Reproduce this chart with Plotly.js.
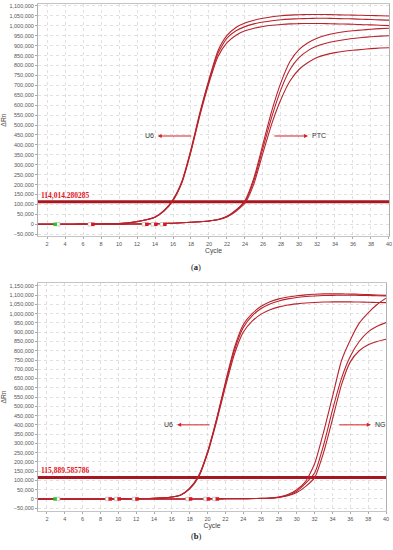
<!DOCTYPE html>
<html><head><meta charset="utf-8">
<script src="https://cdn.plot.ly/plotly-3.0.1.min.js"></script>
<style>html,body{margin:0;padding:0;background:#fff}#c{width:393px;height:550px}</style>
</head><body><div id="c"></div>
<script>
const cycles = [1,2,3,4,5,6,7,8,9,10,11,12,13,14,15,16,17,18,19,20,21,22,23,24,25,26,27,28,29,30,31,32,33,34,35,36,37,38,39,40];

// Panel (a): U6 and PTC amplification curves (ΔRn)
const u6a1 = [0,0,200,400,600,900,1300,1800,2600,3800,7000,14000,23000,37000,70000,125000,218000,378000,565000,730000,875000,952000,992000,1014000,1028000,1038000,1046000,1051000,1054000,1056000,1057000,1057000,1057000,1056000,1055000,1054000,1053000,1052000,1051000,1050000];
const u6a2 = [0,0,200,400,600,900,1300,1800,2600,3700,6800,13500,22500,36000,68000,122000,214000,372000,558000,722000,862000,938000,975000,996000,1010000,1019000,1026000,1031000,1034000,1036000,1037000,1038000,1038000,1037000,1036000,1035000,1033000,1032000,1030000,1029000];
const u6a3 = [0,0,200,400,600,900,1300,1800,2500,3600,6600,13000,22000,35000,66000,119000,210000,366000,550000,712000,845000,915000,953000,975000,988000,997000,1003000,1007000,1010000,1011000,1012000,1012000,1011000,1010000,1009000,1008000,1006000,1005000,1003000,1001000];
const ptca1 = [0,0,0,0,0,0,0,0,500,800,1200,1600,2200,3000,4000,5500,7500,10000,13000,17000,24000,40000,72000,120000,235000,405000,575000,715000,820000,880000,915000,938000,953000,963000,970000,975000,979000,983000,986000,988000];
const ptca2 = [0,0,0,0,0,0,0,0,500,800,1200,1600,2200,3000,4000,5500,7500,10000,13000,17000,24000,39000,70000,114000,222000,385000,545000,680000,780000,840000,875000,898000,912000,922000,930000,936000,941000,945000,948000,950000];
const ptca3 = [0,0,0,0,0,0,0,0,500,800,1200,1600,2200,3000,4000,5500,7500,10000,13000,17000,23000,37000,66000,106000,205000,360000,510000,630000,722000,780000,815000,840000,855000,865000,872000,877000,881000,885000,888000,890000];
const thresholdA = 114014.280285;
const thresholdALabel = "114,014.280285";
const greenA = [2.9];
const redA = [7.1, 13.1, 14.1, 15.1];

// Panel (b): U6 and NG amplification curves (ΔRn)
const u6b1 = [0,0,0,0,0,0,0,200,400,700,1000,1500,2200,3500,6000,11000,22000,58000,125000,255000,430000,630000,815000,940000,1000000,1040000,1065000,1080000,1090000,1097000,1102000,1105000,1107000,1107000,1107000,1106000,1105000,1103000,1101000,1099000];
const u6b2 = [0,0,0,0,0,0,0,200,400,700,1000,1500,2200,3500,6000,11000,22000,56000,122000,250000,425000,620000,800000,925000,988000,1028000,1053000,1069000,1080000,1088000,1093000,1096000,1098000,1099000,1100000,1100000,1099000,1098000,1097000,1096000];
const u6b3 = [0,0,0,0,0,0,0,200,400,700,1000,1500,2200,3400,5800,10500,21000,54000,118000,245000,415000,605000,780000,900000,960000,998000,1022000,1037000,1047000,1053000,1058000,1061000,1063000,1064000,1064000,1064000,1063000,1062000,1061000,1060000];
const nga1 = [0,0,0,0,0,0,0,0,0,0,0,0,0,0,0,0,0,0,0,0,500,800,1200,1700,2300,3200,5000,11000,24000,50000,95000,190000,360000,552000,745000,858000,949000,1005000,1050000,1084000];
const nga2 = [0,0,0,0,0,0,0,0,0,0,0,0,0,0,0,0,0,0,0,0,500,800,1200,1700,2300,3000,4500,9500,20000,42000,85000,140000,290000,480000,650000,770000,850000,902000,932000,952000];
const nga3 = [0,0,0,0,0,0,0,0,0,0,0,0,0,0,0,0,0,0,0,0,500,800,1100,1500,2000,2700,4000,8500,17000,35000,68000,115000,250000,430000,615000,740000,800000,832000,850000,862000];
const thresholdB = 115889.585786;
const thresholdBLabel = "115,889.585786";
const greenB = [2.9];
const redB = [9.1, 10.1, 12.1, 18.1, 20.1, 21.1];

const curveColor = '#b8232c';
const thrColor = '#a8171f';

function curve(y, xa, ya) {
  return {x: cycles, y: y, xaxis: xa, yaxis: ya, mode: 'lines', type: 'scatter',
    line: {color: curveColor, width: 1.1, shape: 'spline', smoothing: 0.6}, hoverinfo: 'skip', showlegend: false};
}
function thr(v, xa, ya) {
  return {x: [cycles[0], cycles[cycles.length-1]], y: [v, v], xaxis: xa, yaxis: ya, mode: 'lines',
    line: {color: thrColor, width: 3}, hoverinfo: 'skip', showlegend: false};
}
function marks(xs, color, xa, ya, dx) {
  return {x: xs.map(v => v + dx), y: xs.map(() => 0), xaxis: xa, yaxis: ya, mode: 'markers',
    marker: {symbol: 'square', size: 3.5, color: color, line: {width: color === '#ffffff' ? 0.6 : 0, color: '#aaa'}},
    hoverinfo: 'skip', showlegend: false};
}

const traces = [
  thr(thresholdA, 'x', 'y'),
  curve(u6a1, 'x', 'y'), curve(u6a2, 'x', 'y'), curve(u6a3, 'x', 'y'),
  curve(ptca1, 'x', 'y'), curve(ptca2, 'x', 'y'), curve(ptca3, 'x', 'y'),
  marks(redA, '#ffffff', 'x', 'y', -0.35), marks(redA, '#e0141c', 'x', 'y', 0),
  marks(greenA, '#ffffff', 'x', 'y', 0.35), marks(greenA, '#22cc22', 'x', 'y', 0),
  thr(thresholdB, 'x2', 'y2'),
  curve(u6b1, 'x2', 'y2'), curve(u6b2, 'x2', 'y2'), curve(u6b3, 'x2', 'y2'),
  curve(nga1, 'x2', 'y2'), curve(nga2, 'x2', 'y2'), curve(nga3, 'x2', 'y2'),
  marks(redB, '#ffffff', 'x2', 'y2', -0.35), marks(redB, '#e0141c', 'x2', 'y2', 0),
  marks(greenB, '#ffffff', 'x2', 'y2', 0.35), marks(greenB, '#22cc22', 'x2', 'y2', 0)
];

const tickFont = {family: 'Liberation Sans, Arial, sans-serif', size: 5.5, color: '#555'};
const titleFont = {family: 'Liberation Sans, Arial, sans-serif', size: 6.8, color: '#444'};
function xax(domain, anchor) {
  return {domain: domain, anchor: anchor, range: [1, 40], tickmode: 'linear', tick0: 2, dtick: 2,
    showgrid: true, gridcolor: '#d8d8d8', griddash: 'dot', gridwidth: 0.8, zeroline: false,
    showline: true, linecolor: '#c4c4c4', linewidth: 1, mirror: true,
    ticks: 'outside', ticklen: 2, tickcolor: '#aaa', tickfont: tickFont,
    title: {text: 'Cycle', font: titleFont, standoff: 2}};
}
function yax(domain, anchor, range) {
  return {domain: domain, anchor: anchor, range: range, tickmode: 'linear', tick0: 0, dtick: 50000,
    tickformat: ',d', showgrid: true, gridcolor: '#d8d8d8', griddash: 'dot', gridwidth: 0.8, zeroline: false,
    showline: true, linecolor: '#b0b0b0', linewidth: 1, mirror: true,
    ticks: 'outside', ticklen: 2, tickcolor: '#aaa', tickfont: tickFont,
    title: {text: 'ΔRn', font: titleFont, standoff: 2}};
}

const arrowColor = '#d42026';
const layout = {
  width: 393, height: 550, margin: {l: 0, r: 0, t: 0, b: 0},
  paper_bgcolor: '#fff', plot_bgcolor: '#fff', showlegend: false,
  xaxis: xax([0.0967, 0.9898], 'y'),
  yaxis: yax([0.5709, 0.9927], 'x', [-59000, 1110000]),
  xaxis2: xax([0.0967, 0.9822], 'y2'),
  yaxis2: yax([0.0709, 0.4855], 'x2', [-65000, 1166000]),
  annotations: [
    {xref: 'x', yref: 'y', x: 1.1, y: thresholdA, text: '<b>' + thresholdALabel + '</b>', showarrow: false,
      xanchor: 'left', yanchor: 'bottom', yshift: 0, font: {family: 'Liberation Serif, serif', size: 7.5, color: '#e8141c'}},
    {xref: 'x2', yref: 'y2', x: 1.1, y: thresholdB, text: '<b>' + thresholdBLabel + '</b>', showarrow: false,
      xanchor: 'left', yanchor: 'bottom', yshift: 0, font: {family: 'Liberation Serif, serif', size: 7.5, color: '#e8141c'}},
    // U6 (a)
    {xref: 'x', yref: 'y', x: 14.3, y: 445000, ax: 18.2, ay: 445000, axref: 'x', ayref: 'y', text: '',
      showarrow: true, arrowhead: 2, arrowsize: 0.8, arrowwidth: 1, arrowcolor: arrowColor},
    {xref: 'x', yref: 'y', x: 14.1, y: 445000, text: 'U6', showarrow: false, xanchor: 'right',
      font: {family: 'Liberation Sans, Arial, sans-serif', size: 7, color: '#333'}},
    // PTC (a)
    {xref: 'x', yref: 'y', x: 31.0, y: 445000, ax: 27.1, ay: 445000, axref: 'x', ayref: 'y', text: '',
      showarrow: true, arrowhead: 2, arrowsize: 0.8, arrowwidth: 1, arrowcolor: arrowColor},
    {xref: 'x', yref: 'y', x: 31.2, y: 445000, text: 'PTC', showarrow: false, xanchor: 'left',
      font: {family: 'Liberation Sans, Arial, sans-serif', size: 7, color: '#333'}},
    // U6 (b)
    {xref: 'x2', yref: 'y2', x: 16.6, y: 400000, ax: 20.4, ay: 400000, axref: 'x2', ayref: 'y2', text: '',
      showarrow: true, arrowhead: 2, arrowsize: 0.8, arrowwidth: 1, arrowcolor: arrowColor},
    {xref: 'x2', yref: 'y2', x: 16.4, y: 400000, text: 'U6', showarrow: false, xanchor: 'right',
      font: {family: 'Liberation Sans, Arial, sans-serif', size: 7, color: '#333'}},
    // NG (b)
    {xref: 'x2', yref: 'y2', x: 38.3, y: 400000, ax: 34.6, ay: 400000, axref: 'x2', ayref: 'y2', text: '',
      showarrow: true, arrowhead: 2, arrowsize: 0.8, arrowwidth: 1, arrowcolor: arrowColor},
    {xref: 'x2', yref: 'y2', x: 38.5, y: 400000, text: 'NG', showarrow: false, xanchor: 'left',
      font: {family: 'Liberation Sans, Arial, sans-serif', size: 7, color: '#333'}},
    // panel labels
    {xref: 'paper', yref: 'paper', x: 196/393, y: 1 - 267/550, text: '(<b>a</b>)', showarrow: false,
      font: {family: 'Liberation Serif, serif', size: 8.5, color: '#222'}},
    {xref: 'paper', yref: 'paper', x: 196/393, y: 1 - 543/550, text: '(<b>b</b>)', showarrow: false,
      font: {family: 'Liberation Serif, serif', size: 8.5, color: '#222'}}
  ]
};
Plotly.newPlot('c', traces, layout, {staticPlot: true, displayModeBar: false});
</script></body></html>
